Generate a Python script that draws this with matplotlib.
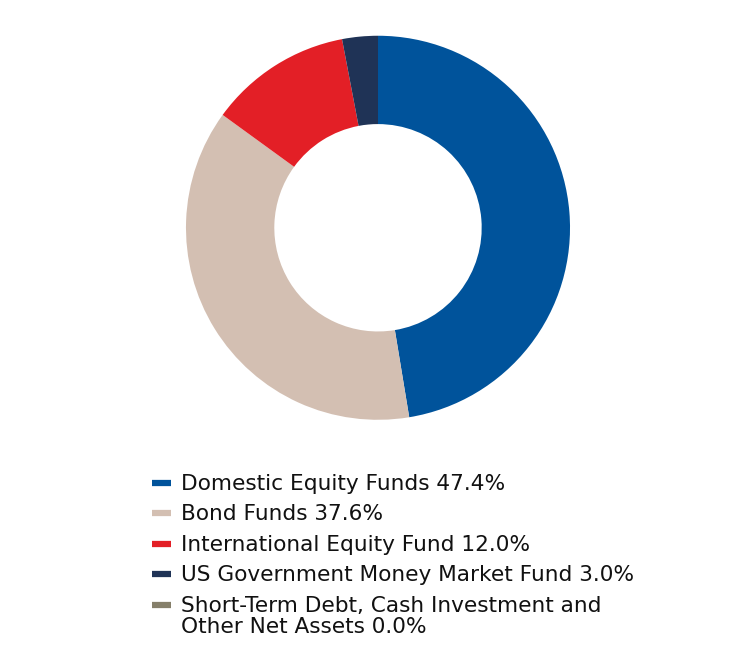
import matplotlib.pyplot as plt
from matplotlib.lines import Line2D

# portfolio allocation
labels = [
    'Domestic Equity Funds 47.4%',
    'Bond Funds 37.6%',
    'International Equity Fund 12.0%',
    'US Government Money Market Fund 3.0%',
    'Short-Term Debt, Cash Investment and\nOther Net Assets 0.0%',
]
values = [47.4, 37.6, 12.0, 3.0, 0.0]
colors = ['#00539B', '#D3BFB2', '#E31F26', '#1F3356', '#857F6A']

plt.rcParams['font.family'] = ['DejaVu Sans']

W, H = 756, 648
fig = plt.figure(figsize=(W / 100, H / 100), dpi=100)
ax = fig.add_axes([0.246, 0.352, 0.508, 0.593])
ax.pie(values, colors=colors, startangle=90, counterclock=False,
       wedgeprops=dict(width=0.46, edgecolor='none'))
ax.set_xlim(-1, 1)
ax.set_ylim(-1, 1)
ax.set_aspect('equal')
ax.axis('off')

# legend drawn by hand so the swatch sits on the first line of wrapped labels
row_y = [483, 513, 544, 574, 605]
for lab, c, y in zip(labels, colors, row_y):
    fig.add_artist(Line2D([152 / W, 171 / W], [1 - y / H, 1 - y / H],
                          color=c, lw=4.5, solid_capstyle='butt'))
    fig.text(181 / W, 1 - (y - 9) / H, lab, fontsize=15.6, va='top',
             ha='left', color='#111111', linespacing=1.05)

fig.savefig('out.png', dpi=100)
